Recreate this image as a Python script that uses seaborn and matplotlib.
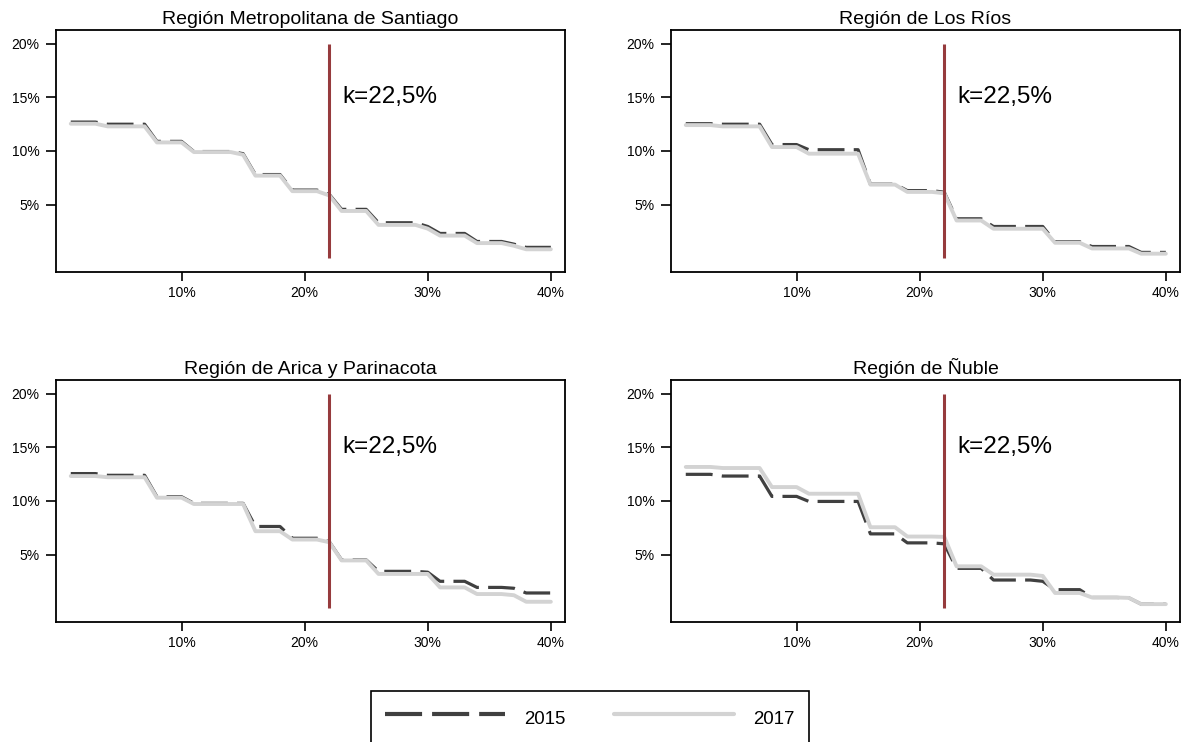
import matplotlib
matplotlib.use("Agg")
import matplotlib.pyplot as plt
from matplotlib.lines import Line2D
import pandas as pd
import seaborn as sns

# Umbral (percentil de ingreso, %) en el eje horizontal
umbral = [1, 2, 3, 4, 5, 6, 7, 8, 9, 10,
          11, 12, 13, 14, 15, 16, 17, 18, 19, 20,
          21, 22, 23, 24, 25, 26, 27, 28, 29, 30,
          31, 32, 33, 34, 35, 36, 37, 38, 39, 40]

regiones = ["Región Metropolitana de Santiago", "Región de Los Ríos",
            "Región de Arica y Parinacota", "Región de Ñuble"]
anios = ["2015", "2017"]

santiago_2015 = [12.70, 12.70, 12.70, 12.50, 12.50, 12.50, 12.50, 10.90, 10.90, 10.90,
                 9.95, 9.95, 9.95, 9.95, 9.75, 7.80, 7.80, 7.80, 6.35, 6.35,
                 6.35, 5.95, 4.55, 4.55, 4.55, 3.30, 3.30, 3.30, 3.30, 2.95,
                 2.30, 2.30, 2.30, 1.55, 1.55, 1.55, 1.30, 1.00, 1.00, 1.00]
santiago_2017 = [12.55, 12.55, 12.55, 12.30, 12.30, 12.30, 12.30, 10.80, 10.80, 10.80,
                 9.90, 9.90, 9.90, 9.90, 9.65, 7.70, 7.70, 7.70, 6.25, 6.25,
                 6.25, 5.85, 4.40, 4.40, 4.40, 3.10, 3.10, 3.10, 3.10, 2.75,
                 2.10, 2.10, 2.10, 1.40, 1.40, 1.40, 1.15, 0.82, 0.82, 0.82]

losrios_2015 = [12.55, 12.55, 12.55, 12.50, 12.50, 12.50, 12.50, 10.60, 10.60, 10.60,
                10.12, 10.12, 10.12, 10.12, 10.12, 6.90, 6.90, 6.90, 6.30, 6.30,
                6.30, 6.15, 3.67, 3.67, 3.67, 2.95, 2.95, 2.95, 2.95, 2.95,
                1.52, 1.52, 1.52, 1.08, 1.08, 1.08, 1.08, 0.53, 0.53, 0.53]
losrios_2017 = [12.42, 12.42, 12.42, 12.30, 12.30, 12.30, 12.30, 10.37, 10.37, 10.37,
                9.75, 9.75, 9.75, 9.75, 9.75, 6.86, 6.86, 6.86, 6.18, 6.18,
                6.18, 6.05, 3.51, 3.51, 3.51, 2.74, 2.74, 2.74, 2.74, 2.74,
                1.43, 1.43, 1.43, 0.90, 0.90, 0.90, 0.90, 0.41, 0.41, 0.41]

arica_2015 = [12.56, 12.56, 12.56, 12.40, 12.40, 12.40, 12.40, 10.40, 10.40, 10.40,
              9.78, 9.78, 9.78, 9.78, 9.78, 7.62, 7.62, 7.62, 6.52, 6.52,
              6.52, 6.20, 4.50, 4.50, 4.50, 3.43, 3.43, 3.43, 3.43, 3.35,
              2.50, 2.50, 2.50, 1.93, 1.93, 1.93, 1.85, 1.41, 1.41, 1.41]
arica_2017 = [12.33, 12.33, 12.33, 12.22, 12.22, 12.22, 12.22, 10.31, 10.31, 10.31,
              9.72, 9.72, 9.72, 9.72, 9.72, 7.18, 7.18, 7.18, 6.40, 6.40,
              6.40, 6.15, 4.45, 4.45, 4.45, 3.19, 3.19, 3.19, 3.19, 3.19,
              1.93, 1.93, 1.93, 1.31, 1.31, 1.31, 1.20, 0.59, 0.59, 0.59]

nuble_2015 = [12.49, 12.49, 12.49, 12.33, 12.33, 12.33, 12.33, 10.43, 10.43, 10.43,
              9.96, 9.96, 9.96, 9.96, 9.96, 6.93, 6.93, 6.93, 6.09, 6.09,
              6.09, 6.00, 3.71, 3.71, 3.71, 2.62, 2.62, 2.62, 2.62, 2.50,
              1.72, 1.72, 1.72, 0.99, 0.99, 0.99, 0.95, 0.37, 0.37, 0.37]
nuble_2017 = [13.18, 13.18, 13.18, 13.08, 13.08, 13.08, 13.08, 11.30, 11.30, 11.30,
              10.68, 10.68, 10.68, 10.68, 10.68, 7.55, 7.55, 7.55, 6.68, 6.68,
              6.68, 6.65, 3.90, 3.90, 3.90, 3.12, 3.12, 3.12, 3.12, 3.00,
              1.41, 1.41, 1.41, 0.99, 0.99, 0.99, 0.95, 0.37, 0.37, 0.37]

series = [(santiago_2015, santiago_2017), (losrios_2015, losrios_2017),
          (arica_2015, arica_2017), (nuble_2015, nuble_2017)]

corte_k = 22
etiqueta_k = "k=22,5%"
x_ticks = [10, 20, 30, 40]
x_labels = ["10%", "20%", "30%", "40%"]
y_ticks = [5, 10, 15, 20]
y_labels = ["5%", "10%", "15%", "20%"]

color_2015 = "#404040"
color_2017 = "#d3d3d3"
color_k = "#963b3d"

sns.set_style("white")
plt.rcParams["font.family"] = ["Liberation Sans", "DejaVu Sans"]
plt.rcParams["text.color"] = "black"
plt.rcParams["axes.labelcolor"] = "black"

fig = plt.figure(figsize=(11.89, 7.42), dpi=100)

W, H = 1189, 742
# axes boxes in pixels: left, top, right, bottom
cajas = [(56, 30, 565, 272), (671, 30, 1180, 272),
         (56, 380, 565, 622), (671, 380, 1180, 622)]

for region, (v15, v17), (l, t, r, b) in zip(regiones, series, cajas):
    ax = fig.add_axes([l / W, 1 - b / H, (r - l) / W, (b - t) / H])
    d15 = pd.DataFrame({"umbral": umbral, "valor": v15})
    d17 = pd.DataFrame({"umbral": umbral, "valor": v17})
    sns.lineplot(data=d15, x="umbral", y="valor", ax=ax, color=color_2015,
                 linewidth=2.3, linestyle=(0, (8.4, 2.9)), estimator=None)
    sns.lineplot(data=d17, x="umbral", y="valor", ax=ax, color=color_2017,
                 linewidth=2.8, estimator=None)
    ax.vlines(corte_k, 0, 20, color=color_k, linewidth=2.2, zorder=5)
    ax.text(corte_k + 1.1, 15, etiqueta_k, fontsize=17.5, va="center", ha="left",
            color="black")

    ax.set_xlim(-0.2, 41.15)
    ax.set_ylim(-1.3, 21.3)
    ax.set_xticks(x_ticks)
    ax.set_xticklabels(x_labels)
    ax.set_yticks(y_ticks)
    ax.set_yticklabels(y_labels)
    ax.set_xlabel("")
    ax.set_ylabel("")
    ax.set_title(region, fontsize=14, pad=4, color="black")
    ax.tick_params(axis="x", direction="out", length=6.5, width=1.2, pad=3.5,
                   labelsize=10, bottom=True, colors="black")
    ax.tick_params(axis="y", direction="out", length=7, width=1.2, pad=4.8,
                   labelsize=10, left=True, colors="black")
    for sp in ax.spines.values():
        sp.set_visible(True)
        sp.set_color("black")
        sp.set_linewidth(1.3)

handles = [Line2D([], [], color=color_2015, linewidth=3, linestyle=(0, (8.9, 2.4))),
           Line2D([], [], color=color_2017, linewidth=3)]
leg = fig.legend(handles, anios, loc="center", bbox_to_anchor=(590 / W, 1 - 717.7 / H),
                 ncol=2, fontsize=13.4, handlelength=6.45, handleheight=1.7,
                 handletextpad=1.04, columnspacing=2.6, borderpad=0.74,
                 frameon=True, fancybox=False, edgecolor="black", framealpha=1)
leg.get_frame().set_linewidth(1.2)

fig.savefig("out.png", dpi=100)
